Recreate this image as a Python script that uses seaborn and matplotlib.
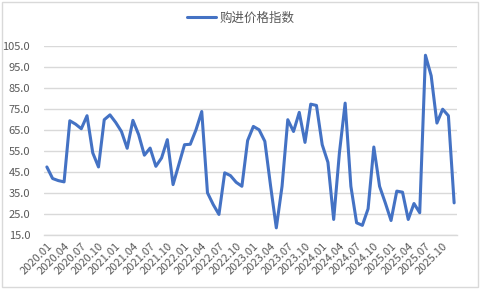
import matplotlib
matplotlib.use("Agg")
import matplotlib.pyplot as plt
import seaborn as sns
import pandas as pd
from matplotlib.patches import Rectangle

series_name = "购进价格指数"
months = [f"{y}.{m:02d}" for y in range(2020, 2026) for m in range(1, 13)]
values = [
    47.4, 41.9, 40.9, 40.3, 69.4, 67.8, 65.6, 71.8, 54.1, 47.4, 69.9, 72.2,
    68.6, 64.3, 56.3, 69.6, 62.8, 53.0, 56.4, 47.7, 51.7, 60.4, 39.0, 48.5,
    58.0, 58.2, 65.1, 73.8, 35.1, 29.5, 24.8, 44.6, 43.3, 40.1, 38.2, 60.0,
    66.7, 65.1, 59.6, 38.4, 18.4, 38.2, 69.9, 64.3, 73.4, 59.1, 77.3, 76.7,
    58.0, 49.6, 22.4, 54.1, 77.8, 38.2, 20.8, 19.6, 27.5, 56.9, 38.2, 30.3,
    21.9, 35.9, 35.4, 22.4, 30.0, 25.6, 100.6, 90.8, 68.3, 74.9, 71.8, 30.3,
]
y_ticks = [15, 25, 35, 45, 55, 65, 75, 85, 95, 105]

df = pd.DataFrame({"month": months, "value": values})

sns.set_theme(style="white")
plt.rcParams["font.family"] = ["Noto Sans CJK SC", "DejaVu Sans"]

fig = plt.figure(figsize=(4.82, 2.90), dpi=100)
ax = fig.add_axes([44/482, 1 - 235/290, (457-44)/482, (235-46)/290])

sns.lineplot(data=df, x="month", y="value", ax=ax, color="#4472C4",
             linewidth=2.2, sort=False, label=series_name)

ax.set_xlim(-0.5, len(months) - 0.5)
ax.set_ylim(15, 105)
ax.set_yticks(y_ticks)
ax.set_yticklabels([f"{v:.1f}" for v in y_ticks], fontsize=8, color="#595959")
tick_pos = list(range(0, len(months), 3))
ax.set_xticks(tick_pos)
ax.set_xticklabels([months[i] for i in tick_pos], rotation=45, ha="right",
                   rotation_mode="anchor", fontsize=8, color="#595959")
ax.tick_params(axis="both", length=0, pad=4)
ax.tick_params(axis="y", pad=10)
ax.grid(axis="y", color="#D9D9D9", linewidth=1)
ax.set_axisbelow(True)
for s in ["top", "right", "left"]:
    ax.spines[s].set_visible(False)
ax.spines["bottom"].set_color("#D9D9D9")
ax.spines["bottom"].set_linewidth(1)
ax.set_xlabel("")
ax.set_ylabel("")

leg = ax.legend(loc="center", bbox_to_anchor=(0.5, 1 - 18/290),
                bbox_transform=fig.transFigure, frameon=False, fontsize=9,
                handlelength=2.3, handletextpad=0.3)
for t in leg.get_texts():
    t.set_color("#595959")

fig.patches.append(Rectangle((2/482, 3/290), 476/482, 285/290, transform=fig.transFigure,
                             fill=False, edgecolor="#D9D9D9", linewidth=1))

fig.savefig("out.png", dpi=100)
